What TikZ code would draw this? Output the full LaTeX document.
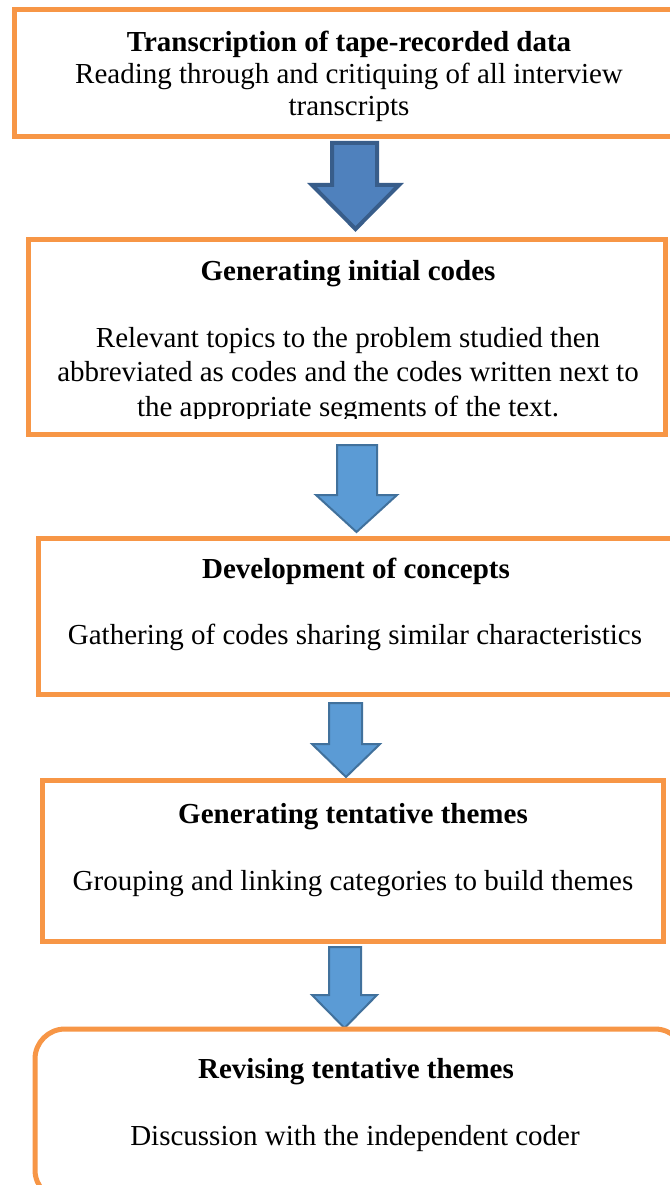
\documentclass[tikz,border=0pt]{standalone}
\usepackage{fontspec}
\setmainfont{Liberation Serif}
\definecolor{boxorange}{HTML}{F79646}
\definecolor{arrfill}{HTML}{5B9BD5}
\definecolor{arrline}{HTML}{41719C}
\definecolor{arrfilldark}{HTML}{4F81BD}
\definecolor{arrlinedark}{HTML}{385D8A}
\begin{document}
\begin{tikzpicture}[x=1pt,y=-1pt,
  stagebox/.style={draw=boxorange, line width=5pt, fill=none, rectangle, inner sep=0pt},
  titletext/.style={font=\fontsize{29}{34}\selectfont\bfseries, inner sep=0pt, anchor=base},
  bodytext/.style={font=\fontsize{29}{34}\selectfont, inner sep=0pt, anchor=base},
  blockarrow/.style={fill=arrfill, draw=arrline, line width=2pt, line join=miter},
  blockarrowdark/.style={fill=arrfilldark, draw=arrlinedark, line width=4pt, line join=miter}
]
\useasboundingbox (0,0) rectangle (669,1185);
\fill[white] (0,0) rectangle (669,1185);

% Box 1
\node[stagebox, minimum width=671pt, minimum height=127pt] (b1) at (349.5,73.5) {};
\node[titletext] (t1) at (349,52) {Transcription of tape-recorded data};
\node[bodytext] (d1a) at (349,84) {Reading through and critiquing of all interview};
\node[bodytext] (d1b) at (349,116) {transcripts};

% Arrow 1
\draw[blockarrowdark] (332,143) -- (377,143) -- (377,185) -- (399,185) -- (355.5,229) -- (312,185) -- (332,185) -- cycle;

% Box 2
\node[stagebox, minimum width=637pt, minimum height=195pt] (b2) at (346.5,336.5) {};
\node[titletext] (t2) at (348,280) {Generating initial codes};
\begin{scope}
\clip (30,241) rectangle (663,418);
\node[bodytext] (d2a) at (348,347) {Relevant topics to the problem studied then};
\node[bodytext] (d2b) at (348,381) {abbreviated as codes and the codes written next to};
\node[bodytext] (d2c) at (348,416) {the appropriate segments of the text.};
\end{scope}

% Arrow 2
\draw[blockarrow] (337,445) -- (377,445) -- (377,495) -- (397,495) -- (356.5,532) -- (316,495) -- (337,495) -- cycle;

% Box 3
\node[stagebox, minimum width=647pt, minimum height=156pt] (b3) at (361.5,616) {};
\node[titletext] (t3) at (356,578) {Development of concepts};
\node[bodytext] (d3) at (355,644) {Gathering of codes sharing similar characteristics};

% Arrow 3
\draw[blockarrow] (329,703) -- (362,703) -- (362,744) -- (380,744) -- (346,777) -- (312,744) -- (329,744) -- cycle;

% Box 4
\node[stagebox, minimum width=621pt, minimum height=161pt] (b4) at (352.5,860.5) {};
\node[titletext] (t4) at (353,823) {Generating tentative themes};
\node[bodytext] (d4) at (353,890) {Grouping and linking categories to build themes};

% Arrow 4
\draw[blockarrow] (329,947) -- (361,947) -- (361,995) -- (377,995) -- (344.5,1028) -- (312,995) -- (329,995) -- cycle;

% Box 5
\node[stagebox, rounded corners=30pt, minimum width=650pt, minimum height=171pt] (b5) at (360,1114.5) {};
\node[titletext] (t5) at (356,1078) {Revising tentative themes};
\node[bodytext] (d5) at (355,1145) {Discussion with the independent coder};
\end{tikzpicture}
\end{document}
